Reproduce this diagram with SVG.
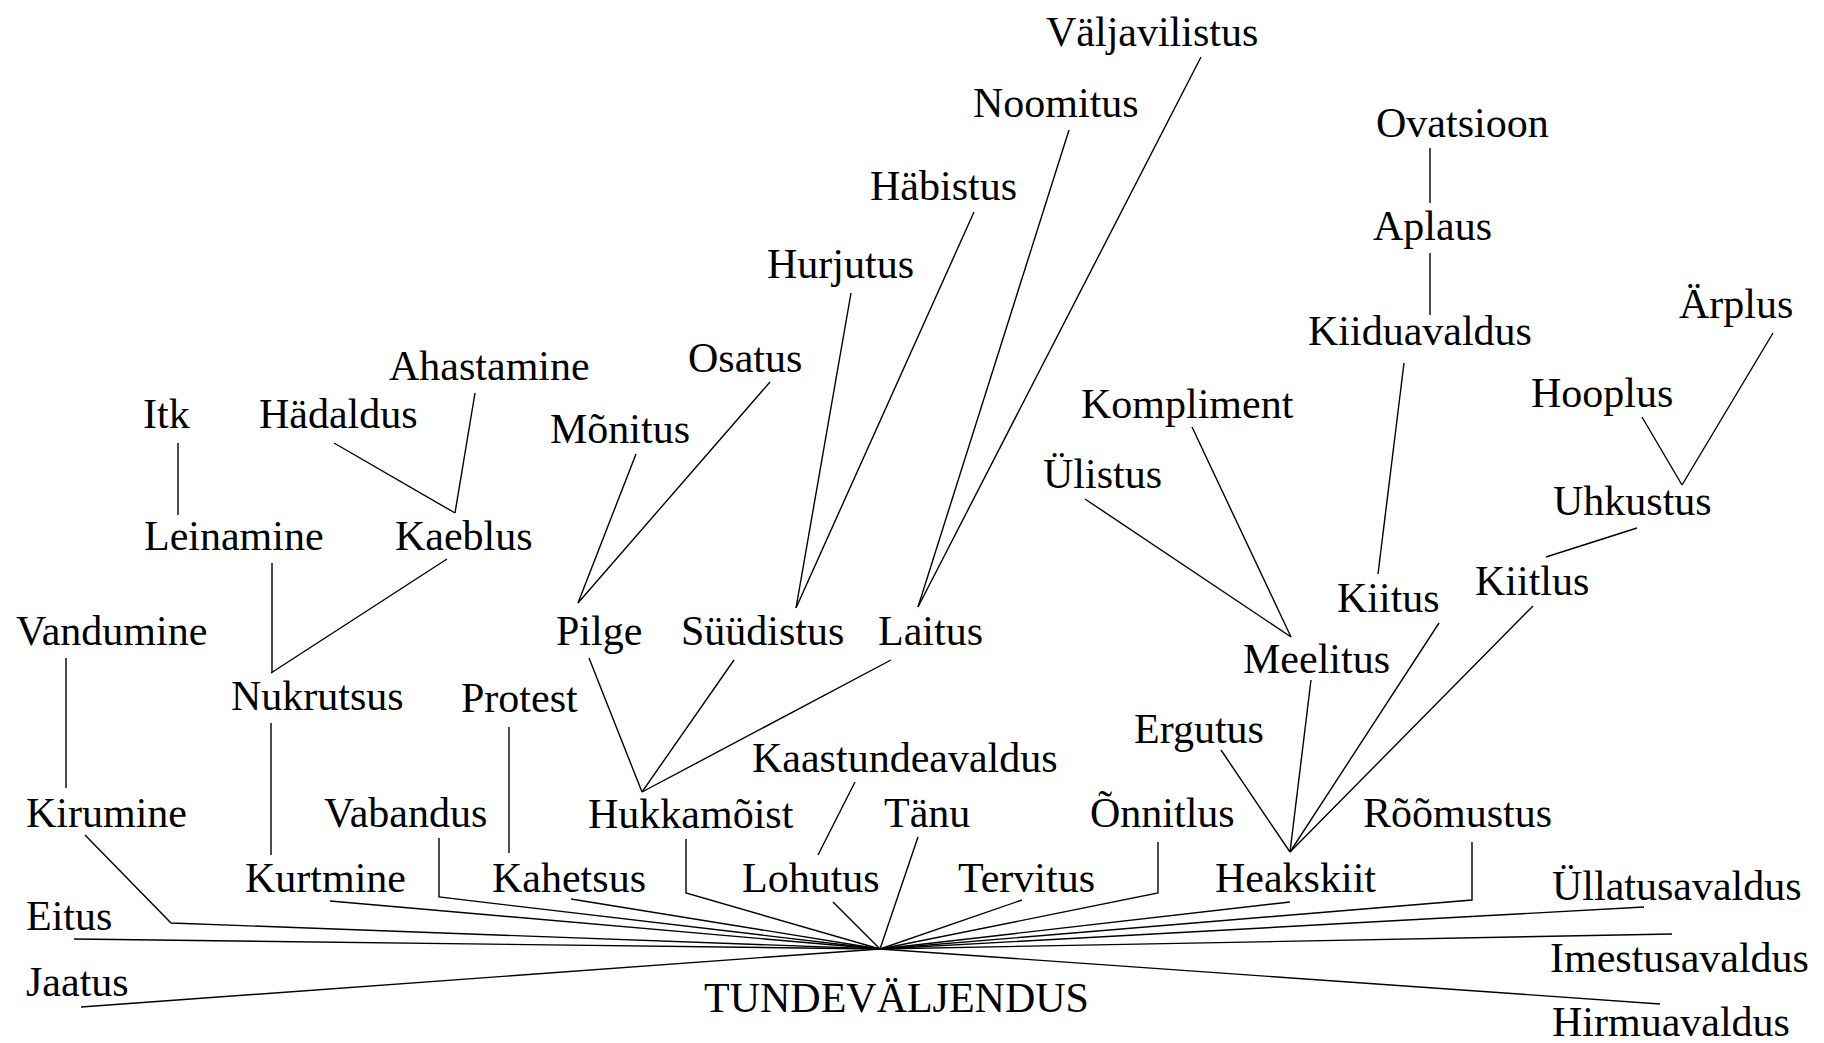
<svg xmlns="http://www.w3.org/2000/svg" width="1824" height="1043" viewBox="0 0 1824 1043">
  <style>
    text { font-family: "Liberation Serif", "Times New Roman", serif; font-size: 42px; fill: #000; }
    #connectors path { fill: none; stroke: #000; stroke-width: 1.4; }
  </style>
  <rect width="1824" height="1043" fill="#fff"/>

  <!-- connectors -->
  <g id="connectors">
    <!-- left branch -->
    <path d="M178 443 V515"/>
    <path d="M334 443 L455 513"/>
    <path d="M475 393 L455 513"/>
    <path d="M272 563 V673"/>
    <path d="M447 559 L271 673"/>
    <path d="M66 658 V788"/>
    <path d="M271 723 V855"/>
    <path d="M509 727 V853"/>
    <!-- lines into the root -->
    <path d="M85 835 L171 923 L880 949"/>
    <path d="M74 939 L880 949"/>
    <path d="M81 1007 L880 949"/>
    <path d="M330 901 L880 949"/>
    <path d="M439 838 V897 L880 949"/>
    <path d="M571 899 L880 949"/>
    <path d="M686 839 V893 L880 949"/>
    <path d="M833 902 L880 949"/>
    <path d="M918 837 L880 949"/>
    <path d="M1022 900 L880 949"/>
    <path d="M1158 842 V893 L880 949"/>
    <path d="M1290 902 L880 949"/>
    <path d="M1472 842 V900 L880 949"/>
    <path d="M1644 907 L880 949"/>
    <path d="M1672 934 L880 949"/>
    <path d="M1660 1004 L880 949"/>
    <path d="M855 782 L818 855"/>
    <!-- middle branch -->
    <path d="M589 658 L642 792"/>
    <path d="M734 660 L642 792"/>
    <path d="M891 660 L642 792"/>
    <path d="M636 454 L578 603"/>
    <path d="M770 382 L578 603"/>
    <path d="M851 293 L796 608"/>
    <path d="M974 212 L796 608"/>
    <path d="M1069 130 L918 607"/>
    <path d="M1201 57 L918 607"/>
    <!-- right branch -->
    <path d="M1430 148 V203"/>
    <path d="M1430 253 V315"/>
    <path d="M1404 363 L1378 574"/>
    <path d="M1642 417 L1682 485"/>
    <path d="M1773 333 L1682 485"/>
    <path d="M1637 528 L1546 557"/>
    <path d="M1192 427 L1291 637"/>
    <path d="M1085 499 L1291 637"/>
    <path d="M1311 680 L1290 852"/>
    <path d="M1439 623 L1290 852"/>
    <path d="M1533 606 L1290 852"/>
    <path d="M1221 750 L1290 852"/>
  </g>

  <!-- nodes -->
  <g id="n-tundevaljendus"><text x="704" y="1012">TUNDEVÄLJENDUS</text></g>
  <g id="n-eitus"><text x="26" y="930">Eitus</text></g>
  <g id="n-jaatus"><text x="26" y="996">Jaatus</text></g>
  <g id="n-kirumine"><text x="26" y="827">Kirumine</text></g>
  <g id="n-vandumine"><text x="16" y="645">Vandumine</text></g>
  <g id="n-kurtmine"><text x="245" y="892">Kurtmine</text></g>
  <g id="n-nukrutsus"><text x="231" y="710">Nukrutsus</text></g>
  <g id="n-leinamine"><text x="144" y="550">Leinamine</text></g>
  <g id="n-itk"><text x="143" y="428">Itk</text></g>
  <g id="n-kaeblus"><text x="395" y="550">Kaeblus</text></g>
  <g id="n-hadaldus"><text x="259" y="428">Hädaldus</text></g>
  <g id="n-ahastamine"><text x="389" y="380">Ahastamine</text></g>
  <g id="n-vabandus"><text x="324" y="827">Vabandus</text></g>
  <g id="n-kahetsus"><text x="492" y="892">Kahetsus</text></g>
  <g id="n-protest"><text x="461" y="712">Protest</text></g>
  <g id="n-hukkamoist"><text x="588" y="828">Hukkamõist</text></g>
  <g id="n-pilge"><text x="556" y="645">Pilge</text></g>
  <g id="n-monitus"><text x="550" y="443">Mõnitus</text></g>
  <g id="n-osatus"><text x="688" y="372">Osatus</text></g>
  <g id="n-syydistus"><text x="681" y="645">Süüdistus</text></g>
  <g id="n-hurjutus"><text x="767" y="278">Hurjutus</text></g>
  <g id="n-habistus"><text x="870" y="200">Häbistus</text></g>
  <g id="n-laitus"><text x="878" y="645">Laitus</text></g>
  <g id="n-noomitus"><text x="973" y="117">Noomitus</text></g>
  <g id="n-valjavilistus"><text x="1046" y="46">Väljavilistus</text></g>
  <g id="n-lohutus"><text x="742" y="892">Lohutus</text></g>
  <g id="n-kaastundeavaldus"><text x="752" y="772">Kaastundeavaldus</text></g>
  <g id="n-tanu"><text x="884" y="827">Tänu</text></g>
  <g id="n-tervitus"><text x="958" y="892">Tervitus</text></g>
  <g id="n-onnitlus"><text x="1090" y="827">Õnnitlus</text></g>
  <g id="n-heakskiit"><text x="1215" y="892">Heakskiit</text></g>
  <g id="n-ergutus"><text x="1134" y="743">Ergutus</text></g>
  <g id="n-meelitus"><text x="1243" y="673">Meelitus</text></g>
  <g id="n-ylistus"><text x="1043" y="488">Ülistus</text></g>
  <g id="n-kompliment"><text x="1081" y="418">Kompliment</text></g>
  <g id="n-kiitus"><text x="1337" y="612">Kiitus</text></g>
  <g id="n-kiiduavaldus"><text x="1308" y="345">Kiiduavaldus</text></g>
  <g id="n-aplaus"><text x="1373" y="240">Aplaus</text></g>
  <g id="n-ovatsioon"><text x="1376" y="137">Ovatsioon</text></g>
  <g id="n-kiitlus"><text x="1475" y="595">Kiitlus</text></g>
  <g id="n-uhkustus"><text x="1553" y="515">Uhkustus</text></g>
  <g id="n-hooplus"><text x="1531" y="407">Hooplus</text></g>
  <g id="n-arplus"><text x="1679" y="318">Ärplus</text></g>
  <g id="n-roomustus"><text x="1363" y="827">Rõõmustus</text></g>
  <g id="n-yllatusavaldus"><text x="1552" y="900">Üllatusavaldus</text></g>
  <g id="n-imestusavaldus"><text x="1550" y="972">Imestusavaldus</text></g>
  <g id="n-hirmuavaldus"><text x="1552" y="1036">Hirmuavaldus</text></g>
</svg>
